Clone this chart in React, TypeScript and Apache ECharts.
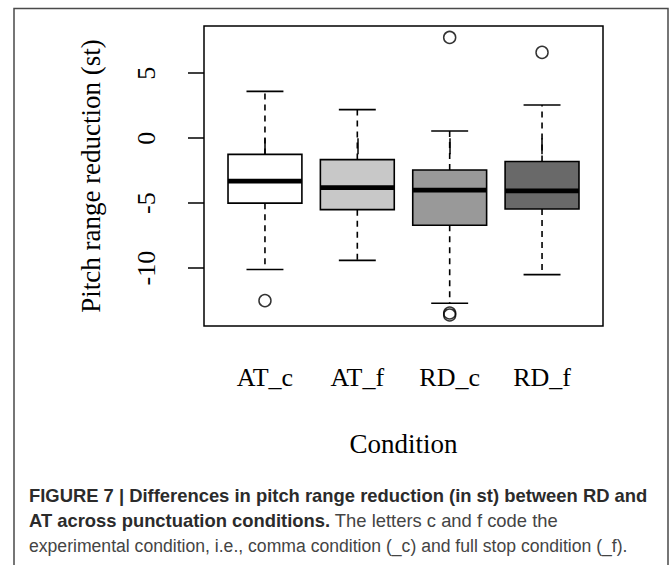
import React, { useEffect, useRef } from "react";
import * as echarts from "echarts";

const categories = ["AT_c", "AT_f", "RD_c", "RD_f"];
const whiskerLow = [-10.1, -9.4, -12.7, -10.5];
const q1 = [-5.0, -5.5, -6.7, -5.45];
const median = [-3.3, -3.8, -4.0, -4.05];
const q3 = [-1.25, -1.65, -2.45, -1.8];
const whiskerHigh = [3.6, 2.2, 0.55, 2.55];
const boxColors = ["#ffffff", "#c8c8c8", "#999999", "#696969"];
const outlierX = [1, 3, 3, 3, 4];
const outlierY = [-12.5, 7.75, -13.45, -13.6, 6.6];
const yTicks = [-10, -5, 0, 5];
const xTicks = [1, 2, 3, 4];

const SERIF = "'Liberation Serif', 'Times New Roman', serif";
const SANS = "'Liberation Sans', Arial, sans-serif";

export default function App() {
  const ref = useRef<HTMLDivElement>(null);
  useEffect(() => {
    if (!ref.current) return;
    const chart = echarts.init(ref.current, undefined, { renderer: "svg" });
    const boxData = categories.map((_, i) => [
      i + 1,
      whiskerLow[i],
      q1[i],
      median[i],
      q3[i],
      whiskerHigh[i],
    ]);
    const outliers = outlierX.map((x, i) => [x, outlierY[i]]);
    chart.setOption({
      animation: false,
      backgroundColor: "#ffffff",
      grid: {
        left: 204,
        top: 26,
        right: 69,
        bottom: 239,
        show: true,
        borderColor: "#000",
        borderWidth: 1.5,
        backgroundColor: "transparent",
      },
      xAxis: {
        type: "value",
        min: 0.34,
        max: 4.66,
        splitLine: { show: false },
        axisLine: { show: false },
        axisTick: {
          show: true,
          customValues: xTicks,
          length: 16,
          lineStyle: { color: "#000", width: 1.5 },
        },
        axisLabel: {
          customValues: xTicks,
          formatter: (v: number) => categories[Math.round(v) - 1] ?? "",
          margin: 38,
          fontFamily: SERIF,
          fontSize: 26,
          color: "#000",
        },
        name: "Condition",
        nameLocation: "middle",
        nameGap: 104,
        nameTextStyle: { fontFamily: SERIF, fontSize: 27, color: "#000" },
      },
      yAxis: {
        type: "value",
        min: -14.45,
        max: 8.63,
        splitLine: { show: false },
        axisLine: { show: false },
        axisTick: {
          show: true,
          customValues: yTicks,
          length: 16,
          lineStyle: { color: "#000", width: 1.5 },
        },
        axisLabel: {
          customValues: yTicks,
          rotate: 90,
          margin: 45,
          fontFamily: SERIF,
          fontSize: 26,
          color: "#000",
        },
        name: "Pitch range reduction (st)",
        nameLocation: "middle",
        nameRotate: 90,
        nameGap: 100,
        nameTextStyle: { fontFamily: SERIF, fontSize: 27, color: "#000" },
      },
      series: [
        {
          type: "custom",
          data: boxData,
          encode: { x: 0, y: [1, 2, 3, 4, 5] },
          renderItem: (params: any, api: any) => {
            const x = api.value(0);
            const pLo = api.coord([x, api.value(1)]);
            const pQ1 = api.coord([x, api.value(2)]);
            const pMed = api.coord([x, api.value(3)]);
            const pQ3 = api.coord([x, api.value(4)]);
            const pHi = api.coord([x, api.value(5)]);
            const halfBox = api.size([0.4, 0])[0];
            const halfCap = halfBox / 2;
            const cx = pMed[0];
            const lw = 1.6;
            const dash = [6, 5];
            return {
              type: "group",
              children: [
                {
                  type: "line",
                  shape: { x1: cx, y1: pQ3[1], x2: cx, y2: pHi[1] },
                  style: { stroke: "#000", lineWidth: lw, lineDash: dash },
                },
                {
                  type: "line",
                  shape: { x1: cx, y1: pQ1[1], x2: cx, y2: pLo[1] },
                  style: { stroke: "#000", lineWidth: lw, lineDash: dash },
                },
                {
                  type: "line",
                  shape: { x1: cx - halfCap, y1: pHi[1], x2: cx + halfCap, y2: pHi[1] },
                  style: { stroke: "#000", lineWidth: lw },
                },
                {
                  type: "line",
                  shape: { x1: cx - halfCap, y1: pLo[1], x2: cx + halfCap, y2: pLo[1] },
                  style: { stroke: "#000", lineWidth: lw },
                },
                {
                  type: "rect",
                  shape: {
                    x: cx - halfBox,
                    y: pQ3[1],
                    width: halfBox * 2,
                    height: pQ1[1] - pQ3[1],
                  },
                  style: { fill: boxColors[params.dataIndex], stroke: "#000", lineWidth: lw },
                },
                {
                  type: "line",
                  shape: { x1: cx - halfBox, y1: pMed[1], x2: cx + halfBox, y2: pMed[1] },
                  style: { stroke: "#000", lineWidth: 4.8 },
                },
              ],
            };
          },
        },
        {
          type: "scatter",
          data: outliers,
          symbol: "circle",
          symbolSize: 12,
          itemStyle: { color: "rgba(0,0,0,0)", borderColor: "#000", borderWidth: 1.5 },
        },
      ],
      graphic: [
        {
          type: "polyline",
          shape: { points: [[14, 575], [14, 8.5], [668, 8.5], [668, 575]] },
          style: { stroke: "#4a4a4a", lineWidth: 1.5, fill: "none" },
          silent: true,
        },
        {
          type: "text",
          left: 29,
          top: 486,
          style: {
            text: "FIGURE 7 | Differences in pitch range reduction (in st) between RD and",
            font: `bold 18.4px ${SANS}`,
            fill: "#2b2b2b",
          },
        },
        {
          type: "text",
          left: 29,
          top: 511,
          style: {
            text: "{b|AT across punctuation conditions.} The letters c and f code the",
            font: `18.4px ${SANS}`,
            fill: "#444",
            rich: {
              b: { font: `bold 18.4px ${SANS}`, fill: "#2b2b2b" },
            },
          },
        },
        {
          type: "text",
          left: 29,
          top: 537,
          style: {
            text: "experimental condition, i.e., comma condition (_c) and full stop condition (_f).",
            font: `17.6px ${SANS}`,
            fill: "#444",
          },
        },
      ],
    });
    return () => chart.dispose();
  }, []);
  return (
    <div
      ref={ref}
      style={{ position: "absolute", left: 0, top: 0, width: 672, height: 565 }}
    />
  );
}
